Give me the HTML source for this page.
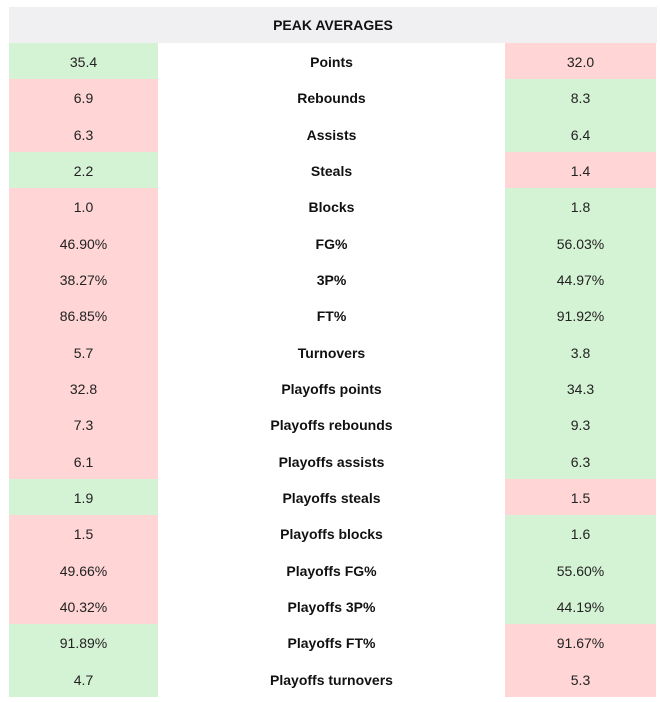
<!DOCTYPE html>
<html><head><style>
body{margin:0;width:660px;height:702px;background:#fff;font-family:"Liberation Sans",Arial,sans-serif;position:relative;overflow:hidden}
.h{position:absolute;left:9px;top:7px;width:648px;height:36px;background:#f0f0f2;font-weight:bold;font-size:14px;text-align:center;line-height:37px;color:#111}
.r{position:absolute;left:9px;width:648px;height:36.33px;font-size:14px;color:#222}
.r div{position:absolute;top:0;height:100%;line-height:38px;text-align:center}
.a{left:0;width:149px}.m{left:149px;width:347px;font-weight:bold;color:#111}.b{left:496px;width:151px}
.g{background:#d4f2d4}.p{background:#ffd5d5}
</style></head><body>
<div class="h">PEAK AVERAGES</div>
<div id="t"></div>
<script>
var d=[["35.4","Points","32.0",1],["6.9","Rebounds","8.3",0],["6.3","Assists","6.4",0],["2.2","Steals","1.4",1],["1.0","Blocks","1.8",0],["46.90%","FG%","56.03%",0],["38.27%","3P%","44.97%",0],["86.85%","FT%","91.92%",0],["5.7","Turnovers","3.8",0],["32.8","Playoffs points","34.3",0],["7.3","Playoffs rebounds","9.3",0],["6.1","Playoffs assists","6.3",0],["1.9","Playoffs steals","1.5",1],["1.5","Playoffs blocks","1.6",0],["49.66%","Playoffs FG%","55.60%",0],["40.32%","Playoffs 3P%","44.19%",0],["91.89%","Playoffs FT%","91.67%",1],["4.7","Playoffs turnovers","5.3",1]];
var h="";d.forEach(function(x,i){h+='<div class="r" style="top:'+(43+i*36.33)+'px"><div class="a '+(x[3]?'g':'p')+'">'+x[0]+'</div><div class="m">'+x[1]+'</div><div class="b '+(x[3]?'p':'g')+'">'+x[2]+'</div></div>';});
document.getElementById("t").innerHTML=h;
</script>
</body></html>
